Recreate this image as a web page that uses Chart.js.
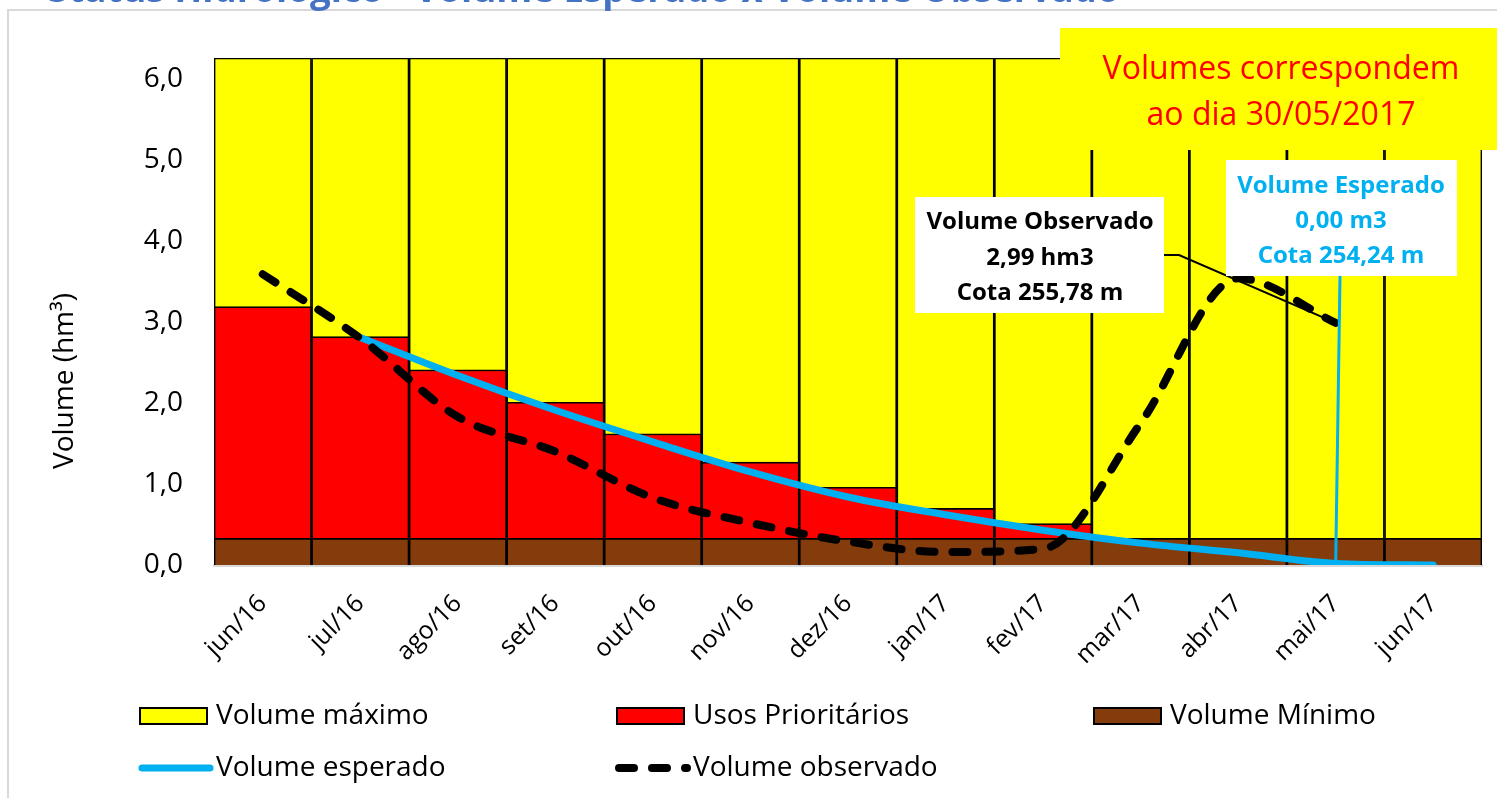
<!DOCTYPE html>
<html lang="pt">
<head>
<meta charset="UTF-8">
<title>Volume esperado x Volume observado</title>
<script src="https://cdn.jsdelivr.net/npm/chart.js@4.4.0/dist/chart.umd.min.js"></script>
<style>
  body { margin: 0; background: #fff; }
  #grafico { display: block; }
</style>
</head>
<body>
<canvas id="grafico" width="1497" height="798"></canvas>
<script>
// dados (hm3)
const meses = ['jun/16', 'jul/16', 'ago/16', 'set/16', 'out/16', 'nov/16', 'dez/16',
               'jan/17', 'fev/17', 'mar/17', 'abr/17', 'mai/17', 'jun/17'];
const volumeMaximo = [6.26, 6.26, 6.26, 6.26, 6.26, 6.26, 6.26, 6.26, 6.26, 6.26, 6.26, 6.26, 6.26];
const usosPrioritarios = [3.19, 2.82, 2.41, 2.01, 1.62, 1.27, 0.96, 0.70, 0.51, null, null, null, null];
const volumeMinimo = [0.33, 0.33, 0.33, 0.33, 0.33, 0.33, 0.33, 0.33, 0.33, 0.33, 0.33, 0.33, 0.33];
const volumeEsperado = [null, 2.81, 2.34, 1.91, 1.52, 1.15, 0.84, 0.62, 0.43, 0.27, 0.15, 0.02, 0.0];
const volumeObservado = [3.59, 2.80, 1.83, 1.40, 0.83, 0.52, 0.29, 0.16, 0.20, 1.75, 3.54, 2.99, null];

const FONTE = "'Open Sans', 'Noto Sans', sans-serif";

// textos, caixas e legenda desenhados por cima do gráfico
const anotacoes = {
  id: 'anotacoes',
  afterDraw(chart) {
    const ctx = chart.ctx;
    const sx = chart.scales.x, sy = chart.scales.y;
    ctx.save();

    // moldura cinza
    ctx.strokeStyle = '#d9d9d9';
    ctx.lineWidth = 2;
    ctx.strokeRect(8, 10, 1530, 830);

    // titulo (cortado no topo)
    const titulo = 'Status Hidrológico - Volume Esperado x Volume Observado';
    ctx.font = `bold 34px ${FONTE}`;
    const w = ctx.measureText(titulo).width;
    ctx.font = `bold ${34 * 1072 / w}px ${FONTE}`;
    ctx.fillStyle = '#4472C4';
    ctx.textAlign = 'left';
    ctx.textBaseline = 'alphabetic';
    ctx.fillText(titulo, 48, 2);

    // titulo do eixo y
    ctx.save();
    ctx.translate(65, 381);
    ctx.rotate(-Math.PI / 2);
    ctx.font = `28px ${FONTE}`;
    ctx.fillStyle = '#000';
    ctx.textAlign = 'center';
    ctx.textBaseline = 'middle';
    ctx.fillText('Volume (hm³)', 0, 0);
    ctx.restore();

    // legenda
    const col = [139, 616, 1093], lin = [716, 768];
    chart.data.datasets.forEach((ds, i) => {
      const cx = col[i % 3], cy = lin[Math.floor(i / 3)];
      if (ds.type === 'line') {
        ctx.beginPath();
        ctx.setLineDash(ds.borderDash || []);
        ctx.lineCap = 'round';
        ctx.lineWidth = ds.borderWidth;
        ctx.strokeStyle = ds.borderColor;
        ctx.moveTo(cx + 3, cy);
        ctx.lineTo(cx + 71, cy);
        ctx.stroke();
        ctx.setLineDash([]);
      } else {
        ctx.fillStyle = '#000';
        ctx.fillRect(cx, cy - 9, 69, 18);
        ctx.fillStyle = ds.backgroundColor;
        ctx.fillRect(cx + 2, cy - 7, 65, 14);
      }
      ctx.fillStyle = '#000';
      ctx.font = `28px ${FONTE}`;
      ctx.textAlign = 'left';
      ctx.textBaseline = 'middle';
      ctx.fillText(ds.label, cx + 77, cy);
    });

    // caixa amarela
    ctx.fillStyle = '#FFFF00';
    ctx.fillRect(1060, 28, 437, 122);
    ctx.fillStyle = '#FF0000';
    ctx.font = `32px ${FONTE}`;
    ctx.textAlign = 'center';
    ctx.textBaseline = 'alphabetic';
    ctx.fillText('Volumes correspondem', 1281, 79);
    ctx.fillText('ao dia 30/05/2017', 1281, 125);

    // linhas de chamada
    const xm = sx.getPixelForValue(11);
    ctx.strokeStyle = '#000';
    ctx.lineWidth = 2;
    ctx.beginPath();
    ctx.moveTo(1164, 255);
    ctx.lineTo(1179, 255);
    ctx.lineTo(xm, sy.getPixelForValue(volumeObservado[11]));
    ctx.stroke();
    ctx.strokeStyle = '#00B0F0';
    ctx.lineWidth = 3;
    ctx.beginPath();
    ctx.moveTo(1340, 276);
    ctx.lineTo(xm, sy.getPixelForValue(volumeEsperado[11]));
    ctx.stroke();

    // caixa volume observado
    ctx.fillStyle = '#fff';
    ctx.fillRect(915, 197, 249, 116);
    ctx.fillStyle = '#000';
    ctx.font = `bold 24px ${FONTE}`;
    ctx.fillText('Volume Observado', 1040, 229);
    ctx.fillText('2,99 hm3', 1040, 265);
    ctx.fillText('Cota 255,78 m', 1040, 300);

    // caixa volume esperado
    ctx.fillStyle = '#fff';
    ctx.fillRect(1226, 160, 231, 116);
    ctx.fillStyle = '#00B0F0';
    ctx.fillText('Volume Esperado', 1341, 193);
    ctx.fillText('0,00 m3', 1341, 228);
    ctx.fillText('Cota 254,24 m', 1341, 263);

    ctx.restore();
  }
};

const barra = { borderColor: '#000', borderWidth: 1.7, grouped: false, categoryPercentage: 1, barPercentage: 1 };

new Chart(document.getElementById('grafico'), {
  type: 'bar',
  data: {
    labels: meses,
    datasets: [
      { ...barra, label: 'Volume máximo', data: volumeMaximo, backgroundColor: '#FFFF00', order: 5 },
      { ...barra, label: 'Usos Prioritários', data: usosPrioritarios, backgroundColor: '#FF0000', order: 4 },
      { ...barra, label: 'Volume Mínimo', data: volumeMinimo, backgroundColor: '#843C0C', order: 3 },
      { type: 'line', label: 'Volume esperado', data: volumeEsperado, borderColor: '#00B0F0',
        borderWidth: 7, borderCapStyle: 'round', pointRadius: 0, cubicInterpolationMode: 'monotone', order: 2 },
      { type: 'line', label: 'Volume observado', data: volumeObservado, borderColor: '#000',
        borderWidth: 8, borderDash: [15, 18], borderCapStyle: 'round', pointRadius: 0,
        cubicInterpolationMode: 'monotone', order: 1 }
    ]
  },
  options: {
    responsive: false,
    animation: false,
    devicePixelRatio: 1,
    layout: { padding: { top: 58, right: 15, left: 0, bottom: 0 } },
    plugins: { legend: { display: false }, tooltip: { enabled: false } },
    scales: {
      x: {
        grid: { display: false, drawTicks: false },
        border: { color: '#d9d9d9', width: 3 },
        ticks: { maxRotation: 45, minRotation: 45, autoSkip: false, padding: 24, color: '#000',
                 font: { family: FONTE, size: 25 } },
        afterFit: s => { s.height = 233; }
      },
      y: {
        min: 0, max: 6.26,
        grid: { display: false, drawTicks: false },
        border: { display: false },
        ticks: { stepSize: 1, includeBounds: false, padding: 31, color: '#000',
                 font: { family: FONTE, size: 28 },
                 callback: v => v.toFixed(1).replace('.', ',') },
        afterFit: s => { s.width = 214; }
      }
    }
  },
  plugins: [anotacoes]
});
</script>
</body>
</html>
